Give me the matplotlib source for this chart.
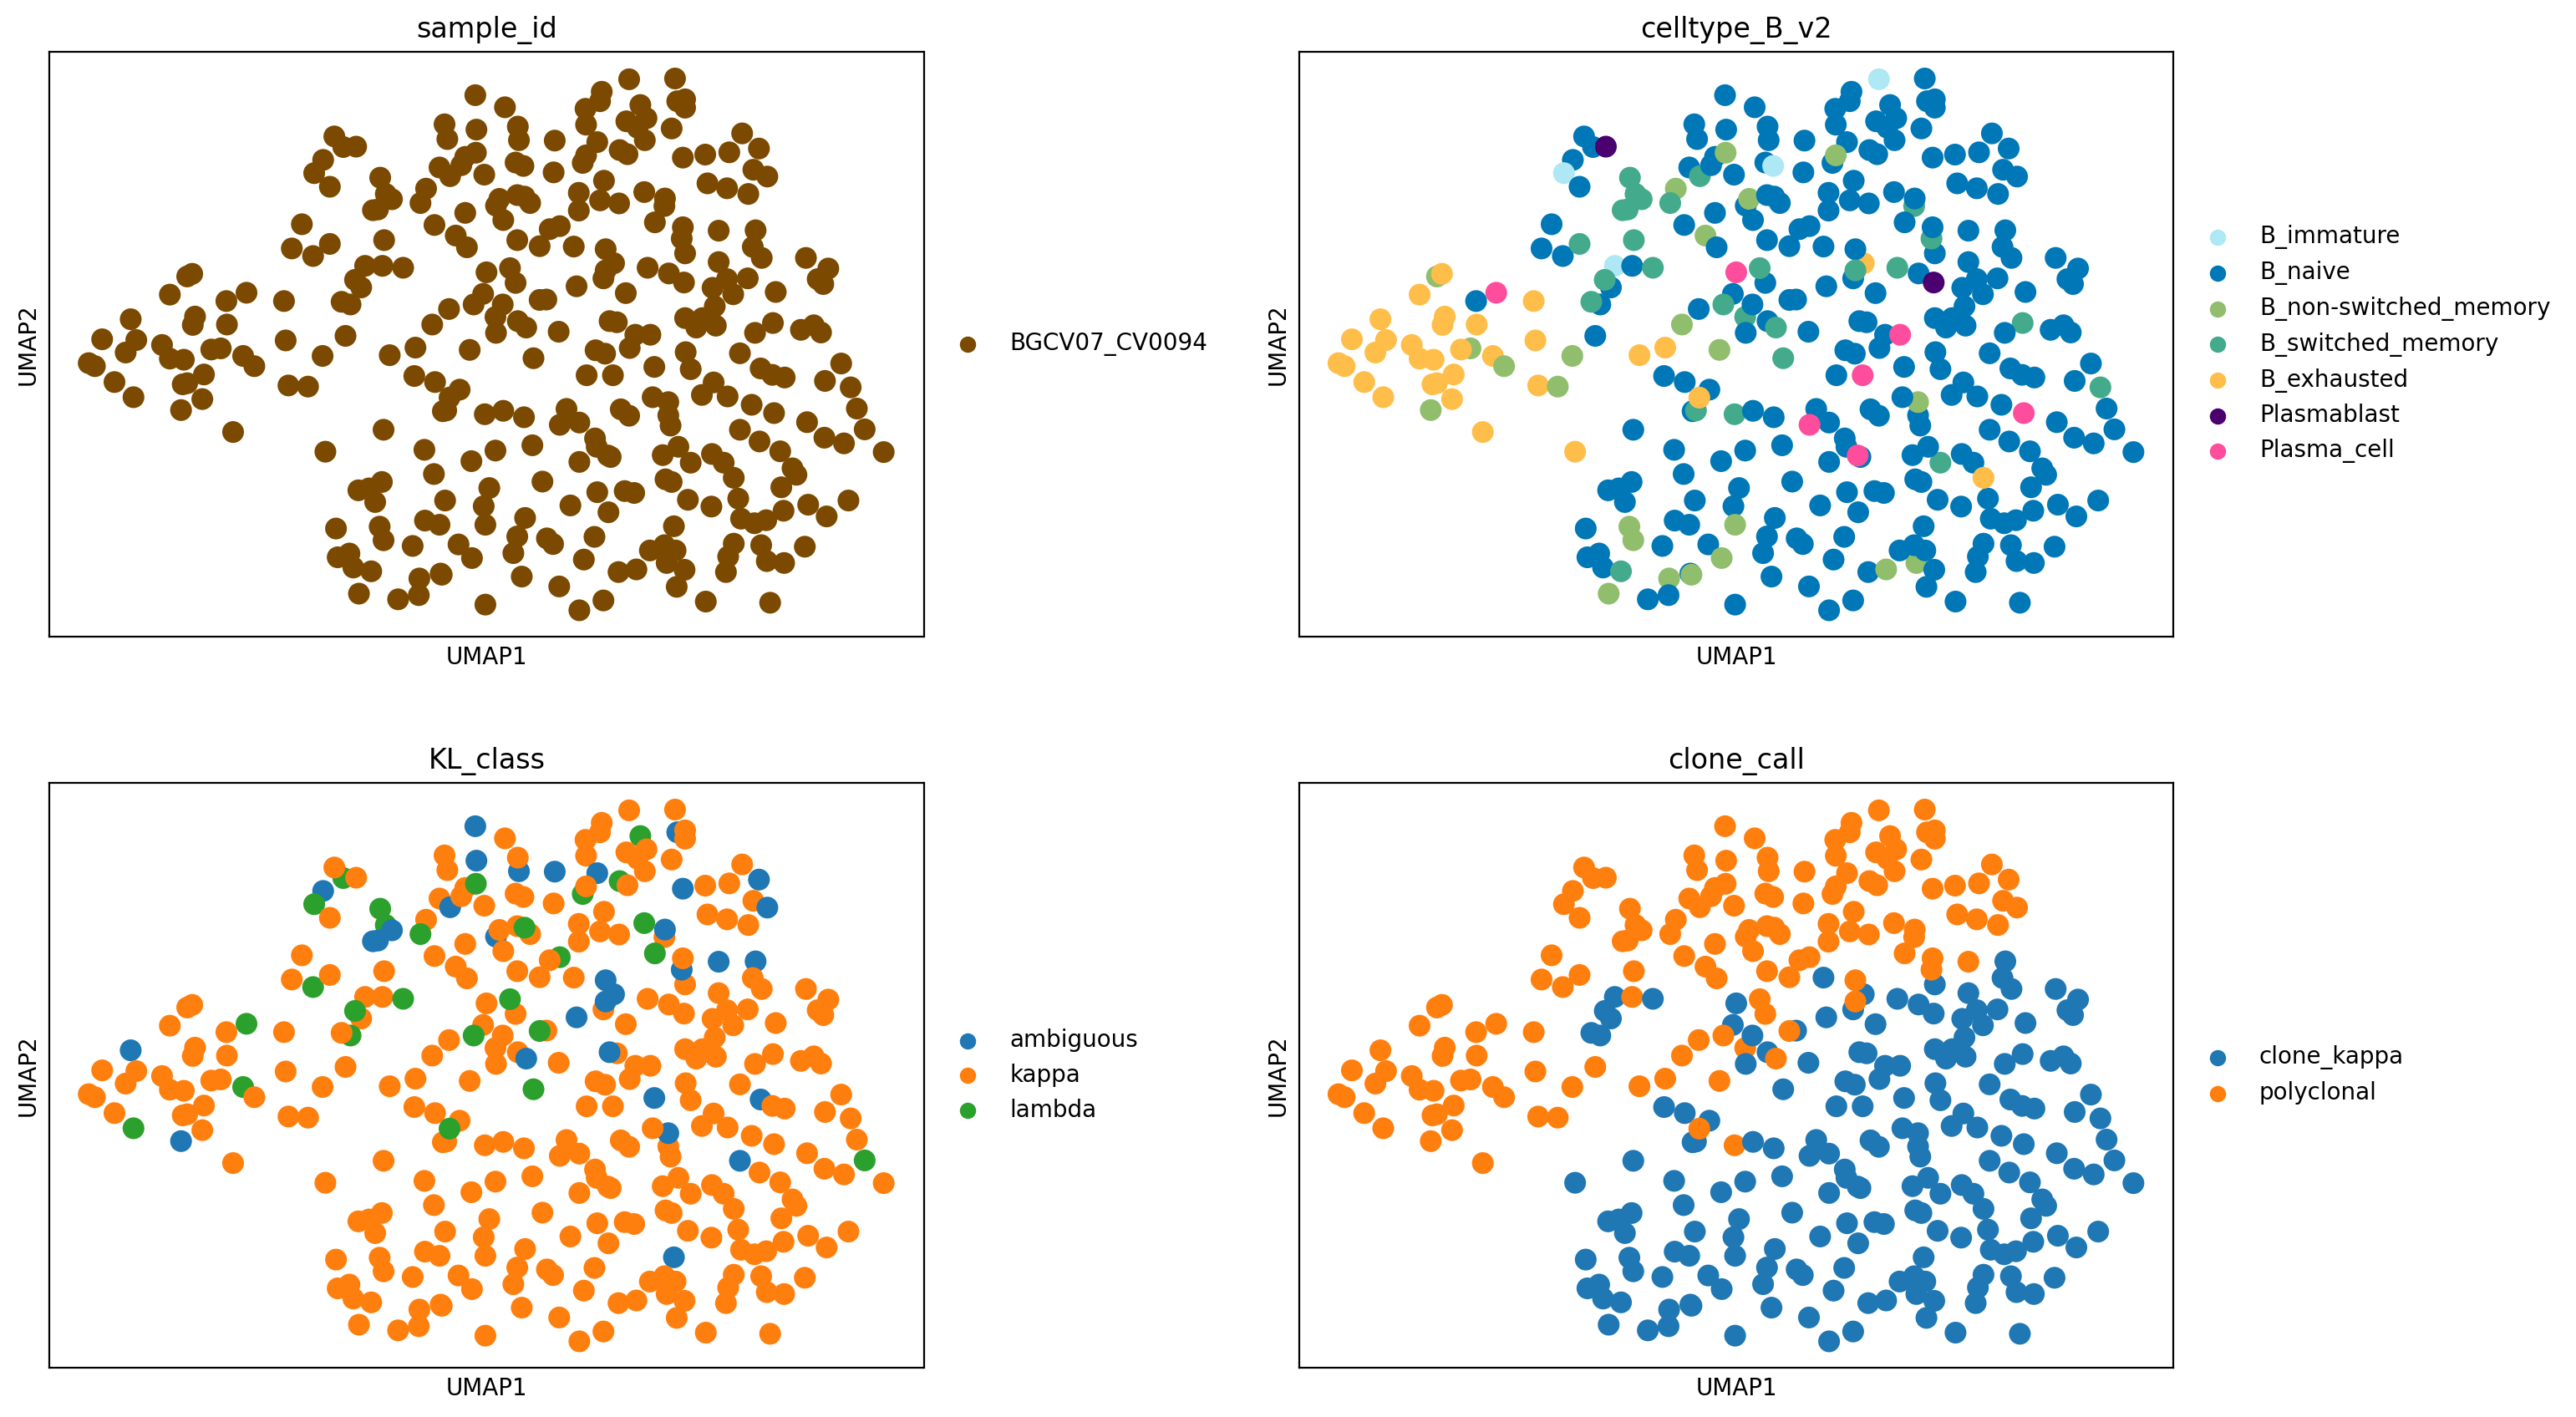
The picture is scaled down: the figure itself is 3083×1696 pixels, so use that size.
import numpy as np
import matplotlib
matplotlib.use("Agg")
import matplotlib.pyplot as plt

# Embedding coordinates, one row of ten cells per source line, in draw order.
umap1 = np.array([
    69,80,93,115,135,144,154,149,200,214,
    214,239,234,237,245,275,272,245,254,259,
    255,305,288,315,316,351,345,365,327,418,
    421,426,461,487,528,492,450,432,470,500,
    597,563,594,631,556,545,537,521,524,508,
    547,488,472,500,590,600,611,577,586,672,
    662,687,742,725,745,705,710,760,762,813,
    838,836,696,715,735,742,761,776,832,846,
    902,900,797,803,835,858,848,810,835,911,
    893,875,936,945,945,983,990,1017,1062,1098,
    1099,1081,957,983,986,1035,1117,958,1055,1030,
    1066,1050,1063,1111,1121,1135,1135,978,952,958,
    1018,1032,1131,1171,1214,1237,1267,1257,1282,1175,
    1210,1248,1135,1129,1131,1195,1261,1256,1272,1351,
    1391,1372,1382,1195,1247,1210,1184,1221,1297,1188,
    1135,1166,1155,1190,1292,1260,1342,1365,1378,1068,
    1106,1133,989,1008,993,993,941,1029,780,832,
    822,774,757,713,796,809,836,851,797,683,
    887,875,909,1013,1000,1046,1073,1036,975,992,
    959,1006,1080,1136,1145,1233,1270,1291,1313,1414,
    1385,1431,1442,1186,1165,1211,1254,1294,1353,1456,
    1384,1419,1490,1233,1268,1305,1327,1334,1307,1355,
    1427,1388,1311,1280,1259,1235,1230,1182,1140,1100,
    1111,1183,1204,1222,1145,1123,1095,1105,1109,1105,
    1077,1020,1035,923,946,911,974,977,1002,997,
    946,862,796,753,669,596,651,688,732,702,
    708,714,777,810,847,607,653,750,864,686,
    551,570,593,581,706,785,775,880,978,1027,
    1044,930,998,849,1115,778,670,696,511,589,
    596,648,730,754,835,828,888,899,973,954,
    514,535,542,574,660,698,700,552,622,659,
    778,843,910,946,989,1016,1048,1102,1072,1098,
    1118,1134,1120,1172,1287,1222,1212,1208,1271,1281,
    1312,1349,
])
umap2 = np.array([
    827,835,764,877,799,711,766,917,779,646,
    815,818,951,883,880,857,922,598,591,704,
    726,788,791,663,725,641,808,835,1009,663,
    767,886,889,808,755,1061,460,524,544,512,
    502,570,570,575,627,607,672,665,256,228,
    255,290,325,361,337,380,394,423,421,366,
    404,462,430,490,521,196,235,119,210,151,
    238,202,310,333,304,282,271,329,297,306,
    239,323,411,393,383,404,387,449,502,465,
    473,518,519,377,424,397,345,405,375,412,
    392,455,155,135,110,77,75,197,145,188,
    180,205,238,207,135,130,152,243,298,278,
    264,275,284,276,270,220,260,316,334,352,
    365,380,537,498,468,477,476,520,549,549,
    577,605,618,560,603,605,628,645,639,677,
    708,708,733,728,721,747,739,727,746,575,
    590,614,603,563,526,582,624,642,587,615,
    576,644,672,684,705,672,716,733,747,725,
    659,660,744,719,716,752,752,787,793,802,
    859,859,837,798,843,801,841,858,865,828,
    874,891,947,878,911,915,937,959,983,1002,
    1024,1039,1062,1003,1034,1060,1105,1122,1155,1201,
    1190,1232,1217,1242,1250,1238,1185,1206,1188,1134,
    1141,1067,1090,1130,1090,1048,1070,965,992,930,
    917,949,966,948,984,990,1026,1048,1075,1071,
    1088,1044,1058,1086,1056,1003,861,877,897,954,
    952,918,962,953,970,806,786,792,814,1120,
    1163,1158,1141,1194,1190,1157,1205,1140,1168,1165,
    1170,1203,1221,1236,1258,1254,1243,1254,1264,1259,
    1295,1310,1306,1342,1285,1329,1290,1305,1286,1346,
    1340,1330,1367,1377,1396,1383,1386,1436,1451,1440,
    1465,1391,1417,1480,1454,1379,1372,1355,1322,1308,
    1322,1373,1418,1457,1460,1304,1338,1379,1308,1350,
    1355,1312,
])

# Per-cell annotations as single-letter codes, same row layout as the coordinates.
celltype_codes = (
    "EEEEEEEEEE" "EEMEEEEMEE" "EMENELEMEE" "EEMMNENNNS" "SINSNSNSNN"
    "PNINSSSSSM" "SNNMNNNNNN" "NNNSNNMNNI" "NNNMNNNNNN" "NNNNNNNNNS"
    "NNNNNINNNN" "NNNNNNNNNM" "NNNNNNNNNN" "NNNSNNNNNN" "NNNNNNNNNN"
    "NNNNSNNNNS" "NPNENSNNLN" "SNSNSNNSNM" "NNNNNNLNNN" "NLNNNNNNNN"
    "NSNNNNNLNN" "NNNNNNNNNN" "NNNNNNNNNN" "NNNESNNNNM" "NNNNNLNNNL"
    "NNNNNNNNNN" "SESNNEEMSN" "NNNNNNNNNN" "NNNNNMNNNM" "MNNMNNNNNN"
    "NNNSMNMMNN" "NNNNNNMMNN" "NNNNNNNNNN" "NN"
)
kl_codes = (
    "KKKKKAKGKK" "KKAKKKKKKK" "KKKKKGGKKK" "KKKKKKKKGK" "KKKGKGGKGK"
    "KAGKGGAAAK" "GKKKKKKAAK" "AKKAKKGKKK" "AKAKKKGKKG" "KKKKKKKKGK"
    "AGKKKKKKGK" "KKKKAKKAGK" "GKAKKKAKAK" "KKKAKAAKKK" "KKKKKKKKKK"
    "KKKKKKKKKK" "KKKAAAAKKK" "GKGKKKKAKK" "KGKKAKKKKK" "KKAKKKAKKK"
    "KKKKKKKKKG" "KKKAKKKKKK" "KKKKKKKKKK" "KKKKKKKKKA" "KKKKKKKKKK"
    "KKKKKKKKKK" "KGKKKKKKGK" "KKKKKKKKKK" "KKKKAKKKKK" "KKKKKKKKKK"
    "KKKKKKKKKK" "KKKKKKKKKK" "KKKKKKKKKK" "KK"
)
clone_codes = (
    "pppppppppp" "pppppppppp" "pppppppppp" "pppppcpppp" "pcpcccccpp"
    "pppppppppp" "pppppppppp" "pppppppppp" "pppppppppp" "ppcppppppp"
    "pppppppppp" "pppppppppp" "pppppppppp" "ppcpppcccc" "cccccccccc"
    "cccccccccc" "ccccppcccp" "pcpppccpcp" "cpcccccccc" "cccccccccc"
    "cccccccccc" "cccccccccc" "cccccccccc" "cccccccccc" "cccccccccc"
    "cccccccccc" "cppccpppcc" "cccccccccc" "cccccccccc" "cccccccccc"
    "cccccccccc" "cccccccccc" "cccccccccc" "cc"
)

sample_levels = {"s": ("BGCV07_CV0094", "#7b4a00")}
celltype_levels = {
    "I": ("B_immature", "#ade8f4"),
    "N": ("B_naive", "#0077b6"),
    "M": ("B_non-switched_memory", "#90be6d"),
    "S": ("B_switched_memory", "#43aa8b"),
    "E": ("B_exhausted", "#ffbe4a"),
    "P": ("Plasmablast", "#4a006e"),
    "L": ("Plasma_cell", "#ff4d9d"),
}
kl_levels = {
    "A": ("ambiguous", "#1f77b4"),
    "K": ("kappa", "#ff7f0e"),
    "G": ("lambda", "#2ca02c"),
}
clone_levels = {
    "c": ("clone_kappa", "#1f77b4"),
    "p": ("polyclonal", "#ff7f0e"),
}

LEFT_COL, RIGHT_COL = 59.0, 1554.7
TOP_ROW, BOTTOM_ROW = 61.7, 936.7
panels = [
    ("sample_id", "s" * len(umap1), sample_levels, LEFT_COL, TOP_ROW),
    ("celltype_B_v2", celltype_codes, celltype_levels, RIGHT_COL, TOP_ROW),
    ("KL_class", kl_codes, kl_levels, LEFT_COL, BOTTOM_ROW),
    ("clone_call", clone_codes, clone_levels, RIGHT_COL, BOTTOM_ROW),
]

W, H = 3083, 1696
AX_W, AX_H = 1046.5, 700
fig = plt.figure(figsize=(W / 200, H / 200), dpi=200)

for title, codes, levels, left, top in panels:
    ax = fig.add_axes([left / W, 1 - (top + AX_H) / H, AX_W / W, AX_H / H])
    colors = [levels[c][1] for c in codes]
    ax.scatter(umap1, umap2, c=colors, s=88, linewidths=0)
    for label, color in levels.values():
        ax.scatter([], [], c=color, label=label)
    ax.set_xlim(-1.5, 1561.5)
    ax.set_ylim(1549, 3.75)
    ax.set_xticks([])
    ax.set_yticks([])
    ax.set_xlabel("UMAP1")
    ax.set_ylabel("UMAP2")
    ax.set_title(title)
    ax.legend(loc="center left", bbox_to_anchor=(1, 0.5), frameon=False)

fig.savefig("out.png", dpi=200)
